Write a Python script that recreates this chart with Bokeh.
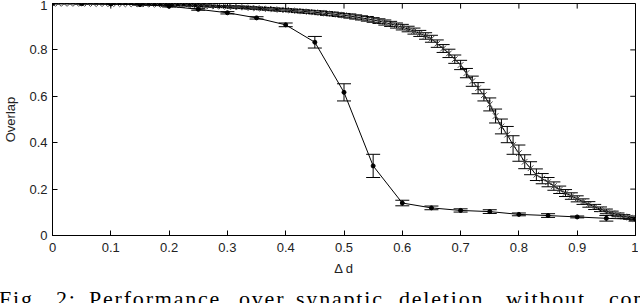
from bokeh.plotting import figure
from bokeh.models import (ColumnDataSource, Whisker, TeeHead, Div,
                          FixedTicker, Range1d)
from bokeh.layouts import column
from bokeh.embed import file_html
from bokeh.resources import INLINE

# Series 1: coarse sampling (filled dots)
x1 = [0.00, 0.05, 0.10, 0.15, 0.20, 0.25, 0.30, 0.35, 0.40, 0.45, 0.50,
      0.55, 0.60, 0.65, 0.70, 0.75, 0.80, 0.85, 0.90, 0.95, 1.00]
y1 = [1.000, 0.999, 0.998, 0.995, 0.988, 0.975, 0.960, 0.938, 0.908, 0.833, 0.617,
      0.300, 0.140, 0.119, 0.108, 0.103, 0.091, 0.086, 0.080, 0.074, 0.070]
e1 = [0.001, 0.001, 0.001, 0.002, 0.003, 0.004, 0.005, 0.005, 0.008, 0.025, 0.037,
      0.050, 0.012, 0.008, 0.007, 0.008, 0.006, 0.008, 0.004, 0.012, 0.008]

# Series 2: fine sampling (x markers)
x2 = [round(i / 100, 2) for i in range(101)]
y2 = [1.000, 1.000, 1.000, 1.000, 1.000, 1.000, 1.000, 0.999, 0.999, 0.999,
      0.999, 0.999, 0.998, 0.998, 0.998, 0.997, 0.997, 0.996, 0.996, 0.995,
      0.995, 0.994, 0.993, 0.993, 0.992, 0.991, 0.990, 0.989, 0.988, 0.987,
      0.986, 0.985, 0.984, 0.983, 0.981, 0.980, 0.978, 0.977, 0.975, 0.973,
      0.972, 0.970, 0.968, 0.966, 0.964, 0.962, 0.960, 0.957, 0.955, 0.952,
      0.949, 0.946, 0.942, 0.938, 0.934, 0.929, 0.924, 0.918, 0.912, 0.905,
      0.898, 0.890, 0.881, 0.871, 0.860, 0.848, 0.827, 0.806, 0.785, 0.760,
      0.735, 0.700, 0.665, 0.635, 0.605, 0.565, 0.515, 0.470, 0.435, 0.390,
      0.355, 0.318, 0.290, 0.262, 0.245, 0.230, 0.213, 0.197, 0.183, 0.170,
      0.158, 0.146, 0.134, 0.123, 0.113, 0.104, 0.096, 0.089, 0.082, 0.077,
      0.072]
e2 = [0.001, 0.001, 0.001, 0.001, 0.001, 0.001, 0.001, 0.001, 0.001, 0.001,
      0.002, 0.002, 0.002, 0.002, 0.002, 0.002, 0.002, 0.003, 0.003, 0.003,
      0.003, 0.003, 0.003, 0.003, 0.004, 0.004, 0.004, 0.004, 0.004, 0.004,
      0.004, 0.005, 0.005, 0.005, 0.005, 0.005, 0.005, 0.006, 0.006, 0.006,
      0.006, 0.006, 0.007, 0.007, 0.007, 0.007, 0.008, 0.008, 0.008, 0.008,
      0.008, 0.009, 0.009, 0.009, 0.010, 0.010, 0.010, 0.011, 0.011, 0.011,
      0.012, 0.012, 0.013, 0.013, 0.014, 0.015, 0.016, 0.017, 0.018, 0.018,
      0.020, 0.020, 0.022, 0.024, 0.025, 0.028, 0.030, 0.032, 0.035, 0.040,
      0.035, 0.030, 0.028, 0.025, 0.022, 0.020, 0.018, 0.016, 0.015, 0.014,
      0.013, 0.012, 0.012, 0.011, 0.010, 0.010, 0.009, 0.008, 0.008, 0.007,
      0.006]

x_ticks = [0, 0.1, 0.2, 0.3, 0.4, 0.5, 0.6, 0.7, 0.8, 0.9, 1]
y_ticks = [0, 0.2, 0.4, 0.6, 0.8, 1]

caption_words = [("Fig.", -1), ("2:", 56), ("Performance", 89), ("over", 239),
                 ("synaptic", 296), ("deletion", 399), ("without", 506), ("com-", 609)]

s1 = ColumnDataSource(dict(x=x1, y=y1,
                           lo=[a - b for a, b in zip(y1, e1)],
                           hi=[a + b for a, b in zip(y1, e1)]))
s2 = ColumnDataSource(dict(x=x2, y=y2,
                           lo=[a - b for a, b in zip(y2, e2)],
                           hi=[a + b for a, b in zip(y2, e2)]))

p = figure(width=638, height=284, output_backend="svg", toolbar_location=None,
           x_range=Range1d(0, 1), y_range=Range1d(0, 1),
           min_border_left=52, min_border_right=3, min_border_top=3,
           min_border_bottom=49)
p.xgrid.visible = False
p.ygrid.visible = False
p.outline_line_color = "black"
p.outline_line_width = 1

FONT = "Liberation Sans"
for ax in (p.xaxis[0], p.yaxis[0]):
    ax.major_tick_in = 5
    ax.major_tick_out = 0
    ax.minor_tick_line_color = None
    ax.major_label_text_font = FONT
    ax.major_label_text_font_size = "13px"
    ax.major_label_text_color = "#222222"
    ax.axis_label_text_font = FONT
    ax.axis_label_text_font_size = "13px"
    ax.axis_label_text_font_style = "normal"
    ax.axis_label_text_color = "#222222"
    ax.axis_line_color = "black"
    ax.major_tick_line_color = "black"

p.xaxis[0].ticker = FixedTicker(ticks=x_ticks)
p.yaxis[0].ticker = FixedTicker(ticks=y_ticks)
p.xaxis[0].major_label_overrides = {0: "0", 1: "1"}
p.yaxis[0].major_label_overrides = {0: "0", 1: "1"}
p.xaxis[0].axis_label = "Δ d"
p.yaxis[0].axis_label = "Overlap"
p.xaxis[0].axis_label_standoff = 6
p.yaxis[0].axis_label_standoff = 8
p.xaxis[0].major_label_standoff = 7
p.yaxis[0].major_label_standoff = 5

# Inward ticks on top and right edges (box style)
p.segment(x0=x_ticks, y0=[1.0] * len(x_ticks), x1=x_ticks, y1=[0.978] * len(x_ticks),
          line_color="black", line_width=1)
p.segment(x0=[1.0] * len(y_ticks), y0=y_ticks, x1=[0.991] * len(y_ticks), y1=y_ticks,
          line_color="black", line_width=1)

# Series 2
p.line("x", "y", source=s2, line_color="black", line_width=1)
p.add_layout(Whisker(base="x", lower="lo", upper="hi", source=s2,
                     line_color="black", line_width=1,
                     upper_head=TeeHead(size=13, line_color="black", line_width=1),
                     lower_head=TeeHead(size=13, line_color="black", line_width=1)))
p.scatter("x", "y", source=s2, marker="x", size=8, line_color="#444444", line_width=1)

# Series 1
p.line("x", "y", source=s1, line_color="black", line_width=1)
p.add_layout(Whisker(base="x", lower="lo", upper="hi", source=s1,
                     line_color="black", line_width=1,
                     upper_head=TeeHead(size=14, line_color="black", line_width=1),
                     lower_head=TeeHead(size=14, line_color="black", line_width=1)))
p.scatter("x", "y", source=s1, marker="circle", size=4, fill_color="black",
          line_color="black")

spans = "".join(
    f'<span style="position:absolute; left:{xs}px; top:0px; white-space:nowrap;">{w}</span>'
    for w, xs in caption_words)
caption = Div(text=f'<div style="position:relative; width:636px; height:30px; '
                   f'font-family:\'Liberation Serif\'; font-size:22px; line-height:24px; '
                   f'letter-spacing:1.8px; color:black;">{spans}</div>',
              width=636, height=30, margin=(3, 0, 0, 0))

layout = column(p, caption, spacing=0)
open("out.html", "w").write(file_html(layout, INLINE))
